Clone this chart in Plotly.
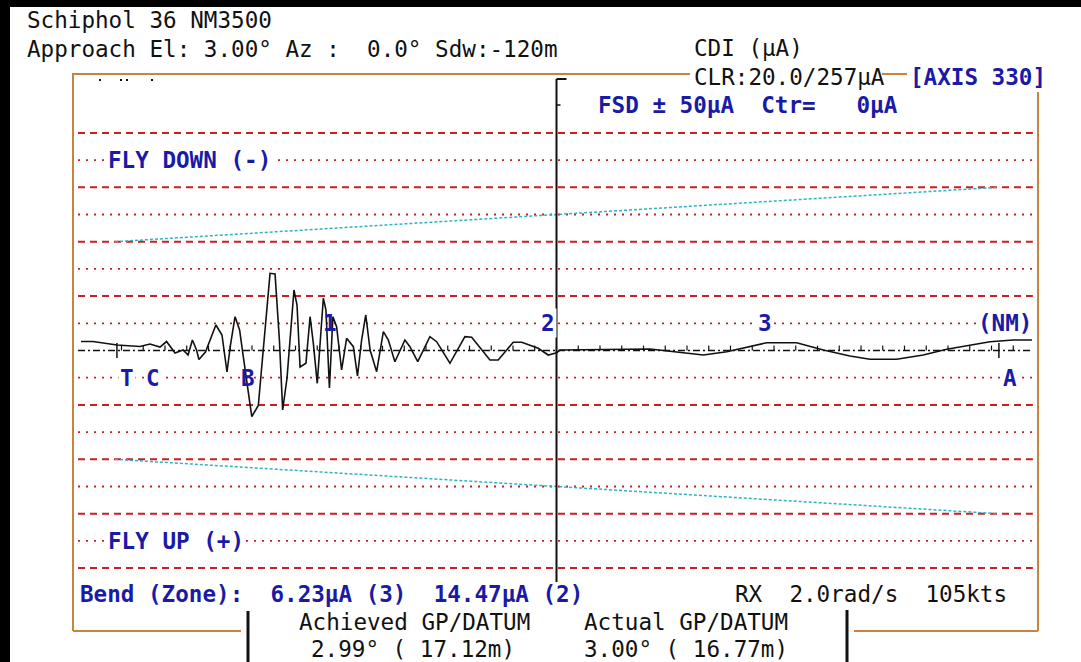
import plotly.graph_objects as go

W, H = 1081, 662

# ---- recorded approach: distance from threshold (NM) vs CDI deviation (µA, + = fly up)
dist_nm = [-0.186, -0.131, -0.021, 0.085, 0.131, 0.177, 0.207, 0.246, 0.283, 0.306,
           0.326, 0.345, 0.356, 0.386, 0.434, 0.462, 0.485, 0.501, 0.522, 0.543,
           0.560, 0.599, 0.629, 0.652, 0.683, 0.706, 0.726, 0.741, 0.761, 0.793,
           0.807, 0.821, 0.848, 0.867, 0.882, 0.900, 0.928, 0.940, 0.956, 0.972,
           0.989, 1.012, 1.035, 1.066, 1.085, 1.104, 1.123, 1.143, 1.173, 1.204,
           1.227, 1.257, 1.303, 1.326, 1.362, 1.418, 1.449, 1.510, 1.579, 1.610,
           1.694, 1.732, 1.801, 1.840, 1.916, 1.962, 2.001, 2.016, 2.200, 2.430,
           2.583, 2.675, 2.783, 2.920, 2.966, 3.104, 3.227, 3.349, 3.441, 3.564,
           3.686, 3.794, 3.901, 3.993, 4.100, 4.186]
cdi_ua = [-1.65, -1.65, -1.01, -0.74, -1.19, -0.64, -1.65, 0.46, -0.09, 0.83,
          -1.93, -0.09, 1.65, 0.28, -4.69, -2.85, 3.95, -1.01, -6.21, -3.77,
          1.14, 12.17, 10.11, -0.09, -14.19, -14.06, -1.93, 10.94, 5.06, -11.12,
          -8.36, 3.03, 2.35, -6.21, -1.32, 6.03, -9.60, -7.44, 6.89, -6.21,
          -4.38, 3.58, -2.24, -0.70, 4.69, -1.93, -6.53, -0.09, 3.90, -3.46,
          -1.93, 2.06, -1.93, -0.70, 2.06, -2.54, -1.62, 2.35, -2.54, -2.43,
          1.75, 1.75, -1.51, -1.51, -0.40, 0.83, 0.40, -0.09, -0.18, -0.28,
          0.40, 0.83, 0.22, -1.01, -1.43, -1.43, -0.09, 1.01, 1.62, 1.62,
          0.83, -0.22, -1.01, -1.62, -1.93, -1.93]

# course sector limits
sector_nm = [-0.03, 4.03]
sector_fly_down_ua = [-20.0, -30.0]
sector_fly_up_ua = [20.0, 30.0]

# CDI grid (µA); multiples of 10 dashed, odd multiples of 5 dotted
grid_ua = [-40, -35, -30, -25, -20, -15, -10, -5, 5, 10, 15, 20, 25, 30, 35, 40]
grid_nm = [-0.2, 4.19]

# distance ticks along the centre line
tick_nm = [round(0.1 * i, 1) for i in range(0, 42)]
big_tick_nm = [-0.021, 4.034]
nm_labels = ["1", "2", "3"]
nm_label_pos = [1.0, 2.0, 3.0]

# approach points
point_names = ["T", "C", "B", "A"]
point_nm = [0.024, 0.145, 0.582, 4.085]

marker_nm = 2.0  # vertical cursor

title_lines = ["Schiphol 36 NM3500",
               "Approach El: 3.00° Az :  0.0° Sdw:-120m"]
cdi_head = "CDI (μA)"
clr_text = "CLR:20.0/257μA"
axis_text = "[AXIS 330]"
fsd_text = "FSD ± 50μA  Ctr=   0μA"
bend_text = "Bend (Zone):  6.23μA (3)  14.47μA (2)"
rx_text = "RX  2.0rad/s  105kts"
achieved_head, achieved_val = "Achieved GP/DATUM", "2.99° ( 17.12m)"
actual_head, actual_val = "Actual GP/DATUM", "3.00° ( 16.77m)"

# ---- pixel geometry of the screen
X0_PX, PX_PER_NM = 121.5, 217.5
Y0_PX, PX_PER_UA = 350.5, 5.44
x_range = [(0 - X0_PX) / PX_PER_NM, (W - X0_PX) / PX_PER_NM]
y_range = [(H - Y0_PX) / PX_PER_UA, (0 - Y0_PX) / PX_PER_UA]   # reversed: fly-up below

BLACK = "#111111"
BLUE = "#1a1aa6"
RED = "#c82020"
ORANGE = "#c8843f"
CYAN = "#2cb4c4"
FONT = "DejaVu Sans Mono"
FS = 22.6


def px(x):
    return x / W


def py(y):
    return 1 - y / H


def nb(s):
    return s.replace(" ", "\u00a0")


fig = go.Figure()

fig.add_trace(go.Scatter(x=sector_nm, y=sector_fly_down_ua, mode="lines",
                         line=dict(color=CYAN, width=1.5, dash="3px,2px"),
                         hoverinfo="skip", showlegend=False))
fig.add_trace(go.Scatter(x=sector_nm, y=sector_fly_up_ua, mode="lines",
                         line=dict(color=CYAN, width=1.5, dash="3px,2px"),
                         hoverinfo="skip", showlegend=False))
fig.add_trace(go.Scatter(x=dist_nm, y=cdi_ua, mode="lines",
                         line=dict(color=BLACK, width=1.6),
                         hoverinfo="skip", showlegend=False))

shapes = []

# screen frame (black edges)
shapes.append(dict(type="rect", xref="paper", yref="paper", x0=0, x1=1,
                   y0=py(7), y1=py(0), fillcolor="black", line=dict(width=0), layer="below"))
shapes.append(dict(type="rect", xref="paper", yref="paper", x0=0, x1=px(10),
                   y0=0, y1=1, fillcolor="black", line=dict(width=0), layer="below"))


def seg(x0, y0, x1, y1, color, width=2, dash="solid"):
    shapes.append(dict(type="line", xref="paper", yref="paper",
                       x0=px(x0), y0=py(y0), x1=px(x1), y1=py(y1),
                       line=dict(color=color, width=width, dash=dash), layer="below"))


# orange panel outline
seg(73, 74, 690, 74, ORANGE)
seg(882, 74, 907, 74, ORANGE)
seg(73, 73, 73, 631, ORANGE)
seg(73, 631, 241, 631, ORANGE)
seg(1038, 92, 1038, 631, ORANGE)
seg(854, 631, 1038, 631, ORANGE)

# black separators under the panel
seg(248, 611, 248, 662, BLACK, width=3)
seg(847, 610, 847, 662, BLACK, width=3)

# small dots at the top-left corner of the panel
for xd in [100, 121, 127, 152]:
    shapes.append(dict(type="rect", xref="paper", yref="paper",
                       x0=px(xd - 1), x1=px(xd + 1), y0=py(81), y1=py(79),
                       fillcolor=BLACK, line=dict(width=0), layer="below"))

# CDI grid
for g in grid_ua:
    dashed = g % 10 == 0
    shapes.append(dict(type="line", xref="x", yref="y", x0=grid_nm[0], x1=grid_nm[1],
                       y0=g, y1=g, layer="below",
                       line=dict(color=RED, width=2 if dashed else 1.8,
                                 dash="7px,5px" if dashed else "2px,6px")))
# centre line
shapes.append(dict(type="line", xref="x", yref="y", x0=grid_nm[0], x1=grid_nm[1],
                   y0=0, y1=0, layer="below",
                   line=dict(color=BLACK, width=1.4, dash="7px,3px,2px,3px")))
for t in tick_nm:
    shapes.append(dict(type="line", xref="x", yref="y", x0=t, x1=t, y0=0, y1=-0.9,
                       layer="below", line=dict(color=BLACK, width=1.2)))
for t in big_tick_nm:
    shapes.append(dict(type="line", xref="x", yref="y", x0=t, x1=t, y0=1.4, y1=-1.4,
                       layer="below", line=dict(color=BLACK, width=1.5)))

# vertical cursor
shapes.append(dict(type="line", xref="x", yref="paper", x0=marker_nm, x1=marker_nm,
                   y0=py(582), y1=py(79), line=dict(color=BLACK, width=2)))
mx = X0_PX + marker_nm * PX_PER_NM
seg(mx, 79, mx + 10, 79, BLACK, width=2)
seg(mx, 105, mx + 4, 105, BLACK, width=1.5)

annotations = []


def text(s, x, y, color=BLACK, bold=False, anchor="left", xref="paper", yref="paper",
         bg=None, xshift=0):
    t = nb(s)
    if bold:
        t = "<b>" + t + "</b>"
    annotations.append(dict(text=t, x=x, y=y, xref=xref, yref=yref, xanchor=anchor,
                            yanchor="middle", showarrow=False, xshift=xshift,
                            font=dict(family=FONT, size=FS, color=color),
                            bgcolor=bg, borderpad=1))


# header
text(title_lines[0], px(25), py(20))
text(title_lines[1], px(25), py(49))
text(cdi_head, px(692), py(48))
text(clr_text, px(692), py(77))
text(axis_text, px(908), py(77), color=BLUE, bold=True)
text(fsd_text, px(596), py(105), color=BLUE, bold=True)

# chart labels
text("FLY DOWN (-)", (106 - X0_PX) / PX_PER_NM, -35, color=BLUE, bold=True,
     xref="x", yref="y", bg="white")
text("FLY UP (+)", (106 - X0_PX) / PX_PER_NM, 35, color=BLUE, bold=True,
     xref="x", yref="y", bg="white")
for name, pos in zip(point_names, point_nm):
    text(name, pos, 5, color=BLUE, bold=True, anchor="center", xref="x", yref="y",
         bg=None if name == "B" else "white")
for lab, pos in zip(nm_labels, nm_label_pos):
    text(lab, pos, -5, color=BLUE, bold=True, anchor="center", xref="x", yref="y",
         bg=None if lab == "1" else "white", xshift=-9)
text("(NM)", 4.062, -5, color=BLUE, bold=True, anchor="center", xref="x", yref="y",
     bg="white")

# footer
text(bend_text, px(78), py(594), color=BLUE, bold=True)
text(rx_text, px(733), py(594))
text(achieved_head, px(297), py(622))
text(achieved_val, px(309), py(649))
text(actual_head, px(582), py(622))
text(actual_val, px(582), py(649))

fig.update_layout(
    width=W, height=H, autosize=False,
    margin=dict(l=0, r=0, t=0, b=0, pad=0),
    paper_bgcolor="white", plot_bgcolor="white",
    xaxis=dict(range=x_range, visible=False, fixedrange=True),
    yaxis=dict(range=y_range, visible=False, fixedrange=True),
    shapes=shapes, annotations=annotations, showlegend=False,
)

fig.write_html("out.html")
